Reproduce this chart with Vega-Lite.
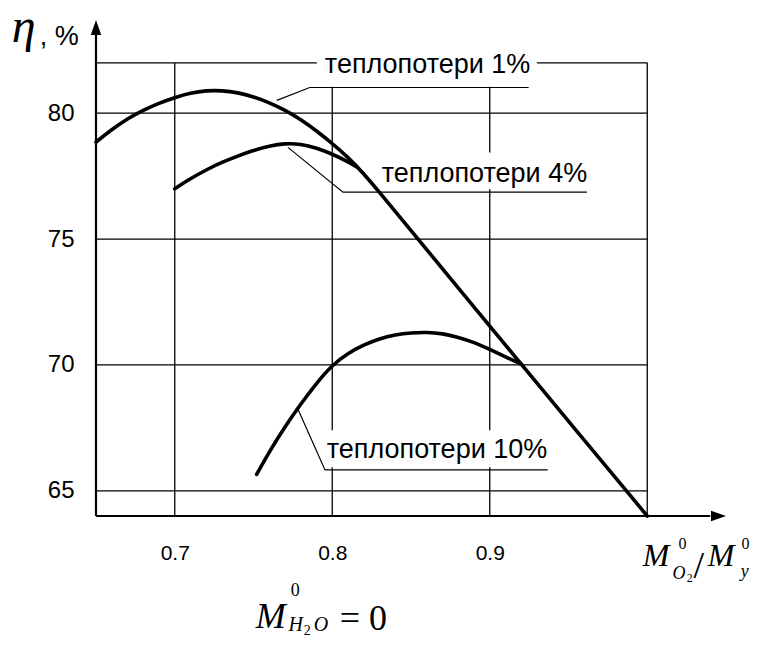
{
  "$schema": "https://vega.github.io/schema/vega-lite/v6.json",
  "width": 630,
  "height": 496,
  "autosize": {"type": "none"},
  "padding": {"left": 96, "top": 20, "right": 49, "bottom": 130},
  "background": "white",
  "config": {"view": {"stroke": null}},
  "datasets": {
    "grid": [
      {"x": 0.65, "x2": 1.0, "y": 65, "y2": 65},
      {"x": 0.65, "x2": 1.0, "y": 70, "y2": 70},
      {"x": 0.65, "x2": 1.0, "y": 75, "y2": 75},
      {"x": 0.65, "x2": 1.0, "y": 80, "y2": 80},
      {"x": 0.65, "x2": 1.0, "y": 82, "y2": 82},
      {"x": 0.7, "x2": 0.7, "y": 64, "y2": 82},
      {"x": 0.8, "x2": 0.8, "y": 64, "y2": 82},
      {"x": 0.9, "x2": 0.9, "y": 64, "y2": 82},
      {"x": 1.0, "x2": 1.0, "y": 64, "y2": 82}
    ],
    "boxes": [
      {"x": 0.7902, "x2": 0.9299, "y": 81.05, "y2": 82.5},
      {"x": 0.828, "x2": 0.962, "y": 76.98, "y2": 78.44},
      {"x": 0.7954, "x2": 0.9368, "y": 65.94, "y2": 67.41}
    ],
    "axes": [
      {"x": 0.65, "x2": 0.65, "y": 64, "y2": 83.2},
      {"x": 0.65, "x2": 1.04, "y": 64, "y2": 64}
    ],
    "arrows": [
      {"x": 0.65, "y": 83.7, "dir": "up"},
      {"x": 1.05, "y": 64, "dir": "right"}
    ],
    "leaders": [
      {"id": "1", "x": 0.7648, "y": 80.51},
      {"id": "1", "x": 0.7857, "y": 81.02},
      {"id": "1", "x": 0.9247, "y": 81.02},
      {"id": "4", "x": 0.7719, "y": 78.64},
      {"id": "4", "x": 0.8068, "y": 76.86},
      {"id": "4", "x": 0.9617, "y": 76.86},
      {"id": "10", "x": 0.7776, "y": 68.33},
      {"id": "10", "x": 0.7954, "y": 65.83},
      {"id": "10", "x": 0.9368, "y": 65.83}
    ],
    "curves": [
      {"s": "1%", "x": 0.65, "y": 78.85},
      {"s": "1%", "x": 0.66, "y": 79.35},
      {"s": "1%", "x": 0.67, "y": 79.78},
      {"s": "1%", "x": 0.68, "y": 80.12},
      {"s": "1%", "x": 0.69, "y": 80.4},
      {"s": "1%", "x": 0.7, "y": 80.62},
      {"s": "1%", "x": 0.71, "y": 80.8},
      {"s": "1%", "x": 0.72, "y": 80.9},
      {"s": "1%", "x": 0.73, "y": 80.9},
      {"s": "1%", "x": 0.74, "y": 80.82},
      {"s": "1%", "x": 0.75, "y": 80.65},
      {"s": "1%", "x": 0.76, "y": 80.42},
      {"s": "1%", "x": 0.77, "y": 80.12},
      {"s": "1%", "x": 0.78, "y": 79.75},
      {"s": "1%", "x": 0.79, "y": 79.3},
      {"s": "1%", "x": 0.8, "y": 78.8},
      {"s": "1%", "x": 0.81, "y": 78.25},
      {"s": "1%", "x": 0.82, "y": 77.6},
      {"s": "1%", "x": 0.83, "y": 76.85},
      {"s": "1%", "x": 0.84, "y": 76.1},
      {"s": "1%", "x": 0.9, "y": 71.54},
      {"s": "1%", "x": 0.92, "y": 70.03},
      {"s": "1%", "x": 1.0, "y": 64},
      {"s": "4%", "x": 0.7, "y": 77.0},
      {"s": "4%", "x": 0.71, "y": 77.4},
      {"s": "4%", "x": 0.72, "y": 77.75},
      {"s": "4%", "x": 0.73, "y": 78.05},
      {"s": "4%", "x": 0.74, "y": 78.3},
      {"s": "4%", "x": 0.75, "y": 78.52},
      {"s": "4%", "x": 0.76, "y": 78.7},
      {"s": "4%", "x": 0.77, "y": 78.8},
      {"s": "4%", "x": 0.78, "y": 78.78},
      {"s": "4%", "x": 0.79, "y": 78.62},
      {"s": "4%", "x": 0.8, "y": 78.38},
      {"s": "4%", "x": 0.81, "y": 78.07},
      {"s": "4%", "x": 0.816, "y": 77.85},
      {"s": "10%", "x": 0.752, "y": 65.65},
      {"s": "10%", "x": 0.76, "y": 66.55},
      {"s": "10%", "x": 0.77, "y": 67.55},
      {"s": "10%", "x": 0.78, "y": 68.45},
      {"s": "10%", "x": 0.79, "y": 69.28},
      {"s": "10%", "x": 0.8, "y": 70.0},
      {"s": "10%", "x": 0.81, "y": 70.47},
      {"s": "10%", "x": 0.82, "y": 70.8},
      {"s": "10%", "x": 0.83, "y": 71.05},
      {"s": "10%", "x": 0.84, "y": 71.2},
      {"s": "10%", "x": 0.85, "y": 71.28},
      {"s": "10%", "x": 0.86, "y": 71.3},
      {"s": "10%", "x": 0.87, "y": 71.25},
      {"s": "10%", "x": 0.88, "y": 71.1},
      {"s": "10%", "x": 0.89, "y": 70.9},
      {"s": "10%", "x": 0.9, "y": 70.62},
      {"s": "10%", "x": 0.91, "y": 70.32},
      {"s": "10%", "x": 0.92, "y": 70.03}
    ],
    "labels": [
      {"x": 0.7953, "y": 81.58, "t": "теплопотери 1%"},
      {"x": 0.8314, "y": 77.25, "t": "теплопотери 4%"},
      {"x": 0.7965, "y": 66.3, "t": "теплопотери 10%"},
      {"x": 0.6143, "y": 82.69, "t": ", %"}
    ],
    "math": [
      {"role": "eta", "x": 0.5965, "y": 82.81, "t": "η"},
      {"role": "var", "x": 0.9971, "y": 62.02, "t": "M"},
      {"role": "var", "x": 1.0384, "y": 62.02, "t": "M"},
      {"role": "varbig", "x": 0.7514, "y": 59.56, "t": "M"},
      {"role": "sub", "x": 1.0161, "y": 61.5, "t": "O"},
      {"role": "sub", "x": 1.0593, "y": 61.58, "t": "y"},
      {"role": "subbig", "x": 0.7723, "y": 59.44, "t": "H"},
      {"role": "subbig", "x": 0.7882, "y": 59.44, "t": "O"},
      {"role": "sup", "x": 1.0199, "y": 62.69, "t": "0"},
      {"role": "sup", "x": 1.0599, "y": 62.69, "t": "0"},
      {"role": "supbig", "x": 0.7736, "y": 60.83, "t": "0"},
      {"role": "idx", "x": 1.025, "y": 61.38, "t": "2"},
      {"role": "idxbig", "x": 0.7819, "y": 59.28, "t": "2"},
      {"role": "slash", "x": 1.0294, "y": 61.54, "t": "/"},
      {"role": "op", "x": 0.8048, "y": 59.48, "t": "= 0"}
    ]
  },
  "encoding": {
    "x": {
      "field": "x", "type": "quantitative",
      "scale": {"domain": [0.65, 1.05], "nice": false, "zero": false},
      "axis": {"values": [0.7, 0.8, 0.9], "format": ".1f", "domain": false, "ticks": false, "tickSize": 0, "grid": false, "title": null, "labelFontSize": 21, "labelFont": "Liberation Sans", "labelColor": "black", "labelPadding": 26, "labelFlush": false, "labelOverlap": false}
    },
    "y": {
      "field": "y", "type": "quantitative",
      "scale": {"domain": [64, 83.7], "nice": false, "zero": false},
      "axis": {"values": [65, 70, 75, 80], "domain": false, "ticks": false, "tickSize": 0, "grid": false, "title": null, "labelFontSize": 24, "labelFont": "Liberation Sans", "labelColor": "black", "labelPadding": 22, "labelOverlap": false}
    }
  },
  "layer": [
    {
      "data": {"name": "grid"},
      "mark": {"type": "rule", "color": "black", "strokeWidth": 1.3},
      "encoding": {"x2": {"field": "x2"}, "y2": {"field": "y2"}}
    },
    {
      "data": {"name": "boxes"},
      "mark": {"type": "rect", "color": "white", "opacity": 1},
      "encoding": {"x2": {"field": "x2"}, "y2": {"field": "y2"}}
    },
    {
      "data": {"name": "axes"},
      "mark": {"type": "rule", "color": "black", "strokeWidth": 2.2},
      "encoding": {"x2": {"field": "x2"}, "y2": {"field": "y2"}}
    },
    {
      "data": {"name": "arrows"},
      "mark": {"type": "point", "filled": true, "color": "black", "opacity": 1, "size": 900},
      "encoding": {
        "shape": {"field": "dir", "type": "nominal", "scale": {"domain": ["up", "right"], "range": ["M0,0L-0.35,1L0.35,1Z", "M0,0L-1,-0.35L-1,0.35Z"]}, "legend": null}
      }
    },
    {
      "data": {"name": "leaders"},
      "mark": {"type": "line", "color": "black", "strokeWidth": 1.2},
      "encoding": {"detail": {"field": "id"}}
    },
    {
      "data": {"name": "curves"},
      "mark": {"type": "line", "color": "black", "strokeWidth": 3.6, "interpolate": "basis", "strokeCap": "round"},
      "encoding": {"detail": {"field": "s"}}
    },
    {
      "data": {"name": "labels"},
      "mark": {"type": "text", "align": "left", "baseline": "alphabetic", "font": "Liberation Sans", "fontSize": 27, "color": "black"},
      "encoding": {"text": {"field": "t"}}
    },
    {
      "data": {"name": "math"},
      "transform": [{"filter": "datum.role === 'eta'"}],
      "mark": {"type": "text", "align": "left", "baseline": "alphabetic", "font": "Liberation Serif", "fontStyle": "italic", "fontSize": 48, "color": "black"},
      "encoding": {"text": {"field": "t"}}
    },
    {
      "data": {"name": "math"},
      "transform": [{"filter": "datum.role === 'var'"}],
      "mark": {"type": "text", "align": "left", "baseline": "alphabetic", "font": "Liberation Serif", "fontStyle": "italic", "fontSize": 32, "color": "black"},
      "encoding": {"text": {"field": "t"}}
    },
    {
      "data": {"name": "math"},
      "transform": [{"filter": "datum.role === 'varbig'"}],
      "mark": {"type": "text", "align": "left", "baseline": "alphabetic", "font": "Liberation Serif", "fontStyle": "italic", "fontSize": 36, "color": "black"},
      "encoding": {"text": {"field": "t"}}
    },
    {
      "data": {"name": "math"},
      "transform": [{"filter": "datum.role === 'sub'"}],
      "mark": {"type": "text", "align": "left", "baseline": "alphabetic", "font": "Liberation Serif", "fontStyle": "italic", "fontSize": 18, "color": "black"},
      "encoding": {"text": {"field": "t"}}
    },
    {
      "data": {"name": "math"},
      "transform": [{"filter": "datum.role === 'subbig'"}],
      "mark": {"type": "text", "align": "left", "baseline": "alphabetic", "font": "Liberation Serif", "fontStyle": "italic", "fontSize": 20, "color": "black"},
      "encoding": {"text": {"field": "t"}}
    },
    {
      "data": {"name": "math"},
      "transform": [{"filter": "datum.role === 'sup'"}],
      "mark": {"type": "text", "align": "left", "baseline": "alphabetic", "font": "Liberation Serif", "fontSize": 16, "color": "black"},
      "encoding": {"text": {"field": "t"}}
    },
    {
      "data": {"name": "math"},
      "transform": [{"filter": "datum.role === 'supbig'"}],
      "mark": {"type": "text", "align": "left", "baseline": "alphabetic", "font": "Liberation Serif", "fontSize": 18, "color": "black"},
      "encoding": {"text": {"field": "t"}}
    },
    {
      "data": {"name": "math"},
      "transform": [{"filter": "datum.role === 'idx'"}],
      "mark": {"type": "text", "align": "left", "baseline": "alphabetic", "font": "Liberation Serif", "fontSize": 12, "color": "black"},
      "encoding": {"text": {"field": "t"}}
    },
    {
      "data": {"name": "math"},
      "transform": [{"filter": "datum.role === 'idxbig'"}],
      "mark": {"type": "text", "align": "left", "baseline": "alphabetic", "font": "Liberation Serif", "fontSize": 14, "color": "black"},
      "encoding": {"text": {"field": "t"}}
    },
    {
      "data": {"name": "math"},
      "transform": [{"filter": "datum.role === 'slash'"}],
      "mark": {"type": "text", "align": "left", "baseline": "alphabetic", "font": "Liberation Serif", "fontSize": 38, "color": "black"},
      "encoding": {"text": {"field": "t"}}
    },
    {
      "data": {"name": "math"},
      "transform": [{"filter": "datum.role === 'op'"}],
      "mark": {"type": "text", "align": "left", "baseline": "alphabetic", "font": "Liberation Serif", "fontSize": 36, "color": "black"},
      "encoding": {"text": {"field": "t"}}
    }
  ]
}
